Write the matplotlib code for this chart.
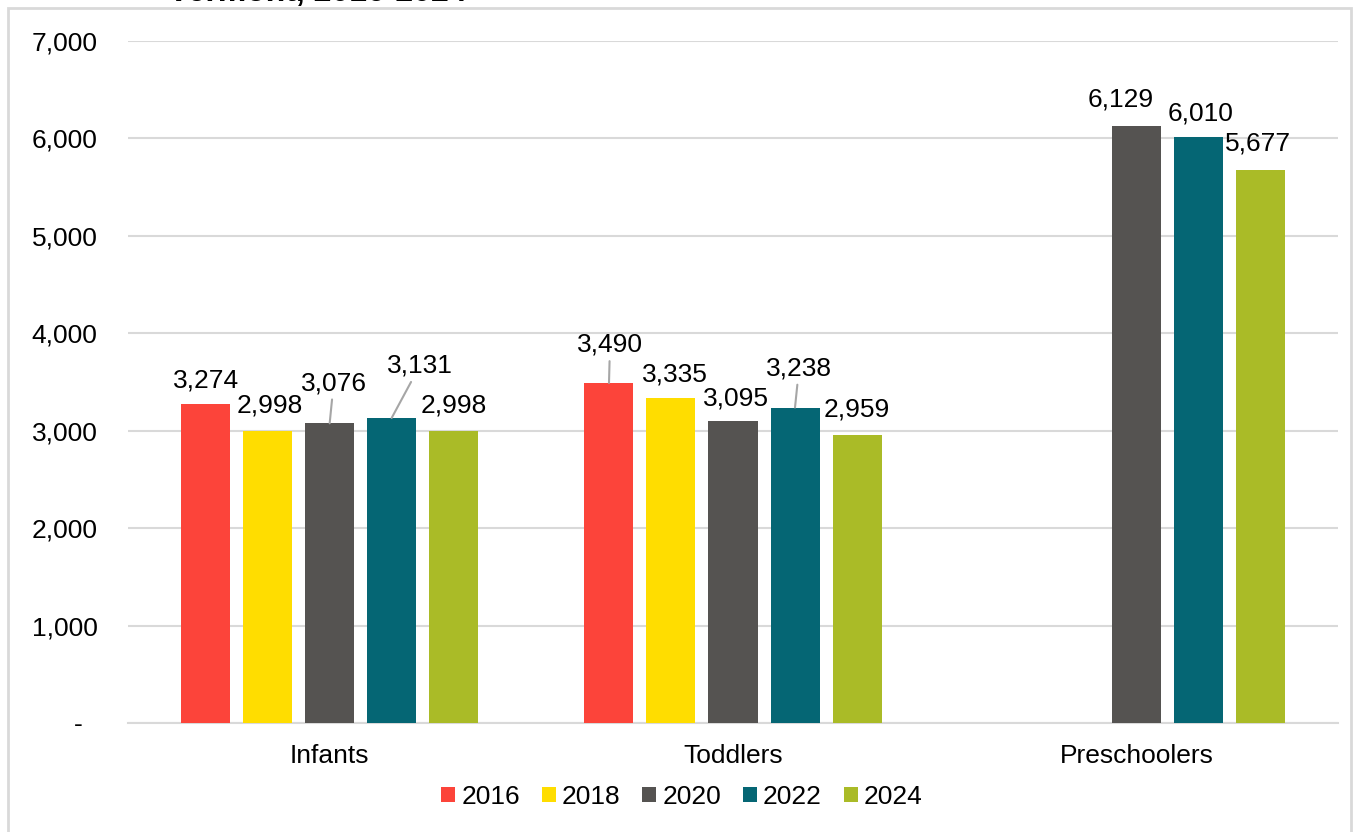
import numpy as np
import matplotlib.pyplot as plt
from matplotlib.patches import Rectangle

plt.rcParams['font.family'] = ['Liberation Sans', 'DejaVu Sans']

categories = ['Infants', 'Toddlers', 'Preschoolers']
years = ['2016', '2018', '2020', '2022', '2024']
values = {
    '2016': [3274, 3490, np.nan],
    '2018': [2998, 3335, np.nan],
    '2020': [3076, 3095, 6129],
    '2022': [3131, 3238, 6010],
    '2024': [2998, 2959, 5677],
}
colors = ['#FC443A', '#FFDD00', '#555351', '#056674', '#AABB27']

# label offsets in pixels (dx, dy above bar top) and whether a leader line is drawn
label_offsets = {
    '2016': [(0, 17, False), (1, 31, True), None],
    '2018': [(2, 18, False), (4, 17, False), None],
    '2020': [(4, 33, True), (3, 16, False), (-16, 19, False)],
    '2022': [(28, 45, True), (4, 32, True), (2, 17, False)],
    '2024': [(0, 18, False), (0, 18, False), (-2, 19, False)],
}

fig = plt.figure(figsize=(13.53, 8.32), dpi=100)
ax = fig.add_axes([128 / 1353, 1 - 723 / 832, 1210 / 1353, 682 / 832])

x = np.arange(len(categories))
step = 62 / 403.3
width = 49 / 403.3
for i, (yr, c) in enumerate(zip(years, colors)):
    pos = x + (i - 2) * step
    vals = values[yr]
    ax.bar(pos, vals, width, color=c, label=yr, zorder=3)
    for j, v in enumerate(vals):
        if np.isnan(v):
            continue
        dx, dy, leader = label_offsets[yr][j]
        kw = {}
        if leader:
            kw['arrowprops'] = dict(arrowstyle='-', color='#A6A6A6', lw=1.5,
                                    shrinkA=1, shrinkB=0)
        ax.annotate(f'{v:,.0f}', xy=(pos[j], v), xytext=(dx, dy),
                    textcoords='offset pixels', ha='center', va='baseline',
                    fontsize=19, color='black', **kw)

ax.set_xlim(-0.5, 2.5)
ax.set_ylim(0, 7000)
ax.set_yticks(range(0, 7001, 1000))
# accounting-style zero: dash padded from the right
ax.set_yticklabels(['-  '] + [f'{t:,}' for t in range(1000, 7001, 1000)])
ax.set_xticks(x)
ax.set_xticklabels(categories)
ax.tick_params(axis='y', length=0, pad=22, labelsize=19)
ax.tick_params(axis='x', length=0, pad=15, labelsize=19)
ax.grid(axis='y', color='#D9D9D9', lw=1.5, zorder=0)
for s in ['top', 'right', 'left']:
    ax.spines[s].set_visible(False)
ax.spines['bottom'].set_color('#D9D9D9')
ax.spines['bottom'].set_linewidth(1.5)

fig.legend(loc='center', bbox_to_anchor=(0.504, 1 - 797 / 832), ncol=5,
           frameon=False, fontsize=19, handlelength=0.53, handleheight=0.53,
           handletextpad=0.23, columnspacing=0.83, borderaxespad=0)

# outer chart border and clipped title line
fig.patches.append(Rectangle((8 / 1353, -0.01), 1343 / 1353, 1 - 8 / 832 + 0.01,
                             transform=fig.transFigure, fill=False,
                             edgecolor='#D9D9D9', lw=2))
fig.text(168 / 1353, 1 - 1 / 832, 'Vermont, 2016-2024', fontsize=23,
         fontweight='bold', ha='left', va='baseline')

fig.savefig('out.png', dpi=100)
